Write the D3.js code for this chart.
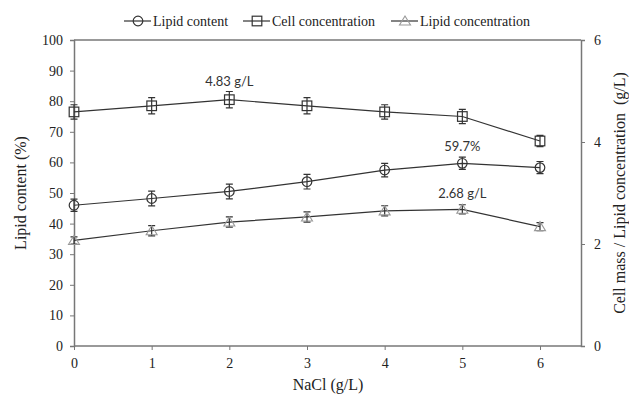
<!DOCTYPE html>
<html>
<head>
<meta charset="utf-8">
<script src="https://cdn.jsdelivr.net/npm/d3@7"></script>
<style>
body { margin: 0; background: #fff; }
text { font-family: "Liberation Serif", "Times New Roman", serif; fill: #222; }
text.note { font-family: "Lato", "Open Sans", sans-serif; fill: #333; }
</style>
</head>
<body>
<script>
var width = 629, height = 401;

// data
var nacl = [0, 1, 2, 3, 4, 5, 6];
var lipidContent = [46.0, 48.2, 50.5, 53.7, 57.5, 59.7, 58.3];   // %
var lipidContentErr = [2.0, 2.4, 2.4, 2.4, 2.2, 2.0, 2.0];
var cellConc = [4.59, 4.71, 4.83, 4.71, 4.59, 4.50, 4.02];       // g/L
var cellConcErr = [0.14, 0.16, 0.16, 0.16, 0.14, 0.14, 0.11];
var lipidConc = [2.07, 2.26, 2.43, 2.53, 2.65, 2.68, 2.34];      // g/L
var lipidConcErr = [0.07, 0.1, 0.1, 0.1, 0.1, 0.09, 0.08];
var leftTicks = [0, 10, 20, 30, 40, 50, 60, 70, 80, 90, 100];
var rightTicks = [0, 2, 4, 6];

var svg = d3.select("body").append("svg")
    .attr("width", width)
    .attr("height", height);

var x0 = 74, yTop = 40, yBot = 346;
var x = d3.scaleLinear().domain([0, 6]).range([x0, 540]);
var xEnd = 581;
var yL = d3.scaleLinear().domain([0, 100]).range([yBot, yTop]);
var yR = d3.scaleLinear().domain([0, 6]).range([yBot, yTop]);

var axisColor = "#777";

// top border
svg.append("line")
    .attr("x1", x0).attr("x2", xEnd)
    .attr("y1", yTop).attr("y2", yTop)
    .attr("stroke", axisColor).attr("stroke-width", 1.5);

// axes
var fmt = d3.format("d");
var gl = svg.append("g").attr("transform", "translate(" + x0 + ",0)")
    .call(d3.axisLeft(yL).tickValues(leftTicks).tickFormat(fmt).tickSize(4).tickPadding(7));
var gr = svg.append("g").attr("transform", "translate(" + xEnd + ",0)")
    .call(d3.axisRight(yR).tickValues(rightTicks).tickFormat(fmt).tickSize(4).tickPadding(9));
var gb = svg.append("g").attr("transform", "translate(0," + yBot + ")")
    .call(d3.axisBottom(x).tickValues(nacl).tickFormat(fmt).tickSize(4).tickPadding(8));

gb.select(".domain").attr("d", "M" + x0 + ",0H" + xEnd);

[gl, gr, gb].forEach(function(g) {
    g.attr("font-family", null).attr("font-size", null);
    g.select(".domain").attr("stroke", axisColor).attr("stroke-width", 1.5);
    g.selectAll(".tick line").attr("stroke", axisColor);
    g.selectAll(".tick text")
        .attr("font-size", 14)
        .attr("fill", "#222");
});

// axis titles
svg.append("text")
    .attr("transform", "translate(26," + ((yTop + yBot) / 2) + ") rotate(-90)")
    .attr("text-anchor", "middle")
    .attr("font-size", 16)
    .text("Lipid content (%)");

svg.append("text")
    .attr("transform", "translate(625," + ((yTop + yBot) / 2) + ") rotate(-90)")
    .attr("text-anchor", "middle")
    .attr("font-size", 16)
    .attr("xml:space", "preserve")
    .text("Cell mass / Lipid concentration  (g/L)");

svg.append("text")
    .attr("x", 328)
    .attr("y", 390)
    .attr("text-anchor", "middle")
    .attr("font-size", 16)
    .text("NaCl (g/L)");

// series
var series = [
    {vals: lipidContent, err: lipidContentErr, y: yL, shape: "circle"},
    {vals: cellConc, err: cellConcErr, y: yR, shape: "square"},
    {vals: lipidConc, err: lipidConcErr, y: yR, shape: "triangle"}
];

var lineColor = "#333";

function drawMarker(g, shape, cx, cy) {
    if (shape == "circle") {
        g.append("circle").attr("cx", cx).attr("cy", cy).attr("r", 4.8)
            .attr("fill", "none").attr("stroke", lineColor).attr("stroke-width", 1.2);
    } else if (shape == "square") {
        g.append("rect").attr("x", cx - 4.8).attr("y", cy - 4.8)
            .attr("width", 9.6).attr("height", 9.6)
            .attr("fill", "none").attr("stroke", lineColor).attr("stroke-width", 1.2);
    } else {
        g.append("path")
            .attr("d", "M" + cx + "," + (cy - 5) + "L" + (cx + 5.5) + "," + (cy + 4) + "L" + (cx - 5.5) + "," + (cy + 4) + "Z")
            .attr("fill", "none").attr("stroke", "#999").attr("stroke-width", 1.1);
    }
}

series.forEach(function(s) {
    var line = d3.line()
        .x(function(d, i) { return x(nacl[i]); })
        .y(function(d) { return s.y(d); });
    svg.append("path")
        .datum(s.vals)
        .attr("d", line)
        .attr("fill", "none")
        .attr("stroke", lineColor)
        .attr("stroke-width", 1.2);

    var g = svg.append("g");
    s.vals.forEach(function(v, i) {
        var cx = x(nacl[i]);
        var y1 = s.y(v + s.err[i]), y2 = s.y(v - s.err[i]);
        g.append("path")
            .attr("d", "M" + cx + "," + y1 + "V" + y2 +
                       "M" + (cx - 3.5) + "," + y1 + "H" + (cx + 3.5) +
                       "M" + (cx - 3.5) + "," + y2 + "H" + (cx + 3.5))
            .attr("stroke", lineColor).attr("stroke-width", 1.2).attr("fill", "none");
        drawMarker(g, s.shape, cx, s.y(v));
    });
});

// annotations
svg.append("text").attr("class", "note")
    .attr("x", x(2)).attr("y", yR(4.83) - 14)
    .attr("text-anchor", "middle").attr("font-size", 13)
    .text("4.83 g/L");
svg.append("text").attr("class", "note")
    .attr("x", x(5)).attr("y", yL(59.7) - 12)
    .attr("text-anchor", "middle").attr("font-size", 13)
    .text("59.7%");
svg.append("text").attr("class", "note")
    .attr("x", x(5)).attr("y", yR(2.68) - 11)
    .attr("text-anchor", "middle").attr("font-size", 13)
    .text("2.68 g/L");

// legend
var legendItems = [
    {label: "Lipid content", shape: "circle", x: 124},
    {label: "Cell concentration", shape: "square", x: 243},
    {label: "Lipid concentration", shape: "triangle", x: 391}
];
var ly = 21;
legendItems.forEach(function(d) {
    var g = svg.append("g");
    g.append("line").attr("x1", d.x).attr("x2", d.x + 27)
        .attr("y1", ly).attr("y2", ly)
        .attr("stroke", lineColor).attr("stroke-width", 1.2);
    drawMarker(g, d.shape, d.x + 14, ly);
    g.append("text").attr("x", d.x + 29).attr("y", ly + 5)
        .attr("font-size", 14)
        .text(d.label);
});
</script>
</body>
</html>
